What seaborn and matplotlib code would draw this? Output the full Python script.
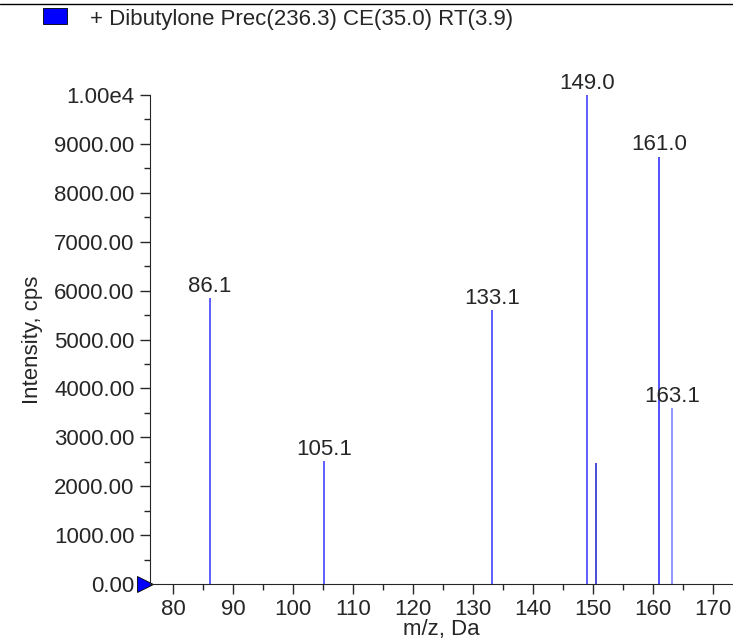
import numpy as np
import pandas as pd
import matplotlib
matplotlib.use('Agg')
import matplotlib.pyplot as plt
from matplotlib.lines import Line2D
from matplotlib.patches import Rectangle
from matplotlib.ticker import MultipleLocator, FuncFormatter
import seaborn as sns

# Datos del espectro (m/z, intensidad)
mz = [86.1, 105.1, 133.1, 149.0, 150.5, 161.0, 163.1]
intensity = [5840, 2510, 5600, 10000, 2470, 8740, 3590]
labels = ['86.1', '105.1', '133.1', '149.0', '', '161.0', '163.1']
line_colors = ['#3333ff', '#3333ff', '#3333ff', '#3333ff', '#1a1acc', '#2222ff', '#7777ff']

legend_text = '+ Dibutylone Prec(236.3) CE(35.0) RT(3.9)'

df = pd.DataFrame({'mz': mz, 'intensity': intensity, 'label': labels, 'color': line_colors})

sns.set_style('ticks')
plt.rcParams['font.family'] = ['Liberation Sans', 'DejaVu Sans']
plt.rcParams['font.size'] = 16

fig = plt.figure(figsize=(7.33, 6.41), dpi=100)
ax = fig.add_axes([0.2046, 0.0889, 0.7954, 0.7629])

ax.vlines(df['mz'], 0, df['intensity'], colors=df['color'], linewidth=1.1)
for _, row in df.iterrows():
    if row['label']:
        ax.annotate(row['label'], (row['mz'], row['intensity']), xytext=(0, 1),
                    textcoords='offset points', ha='center', va='bottom',
                    fontsize=16, annotation_clip=False)

ax.set_xlim(76.15, 173.3)
ax.set_ylim(0, 10000)
ax.xaxis.set_major_locator(MultipleLocator(10))
ax.xaxis.set_minor_locator(MultipleLocator(5))
ax.yaxis.set_major_locator(MultipleLocator(1000))
ax.yaxis.set_minor_locator(MultipleLocator(500))
ax.yaxis.set_major_formatter(FuncFormatter(lambda v, p: '1.00e4' if v >= 10000 else f'{v:.2f}'))

ax.tick_params(which='major', length=7, width=1, pad=4, labelsize=16)
ax.tick_params(which='minor', length=4, width=1)
sns.despine(ax=ax)

ax.set_xlabel('m/z, Da', fontsize=16, labelpad=-1)
ax.set_ylabel('Intensity, cps', fontsize=16, labelpad=8)

# Marcador triangular en el origen (a la izquierda del eje)
ax.plot([75.4], [0], marker='>', markersize=11, color='blue', markeredgecolor='black',
        markeredgewidth=0.6, clip_on=False)

# Línea superior y leyenda
fig.add_artist(Line2D([0, 1], [1 - 4 / 641, 1 - 4 / 641], color='black', linewidth=1))
fig.add_artist(Rectangle((43 / 733, 1 - 24 / 641), 24 / 733, 16 / 641,
                         facecolor='blue', edgecolor='black', linewidth=0.6))
fig.text(90 / 733, 1 - 20 / 641, legend_text, fontsize=16, va='center', ha='left')

fig.savefig('out.png', dpi=100)
